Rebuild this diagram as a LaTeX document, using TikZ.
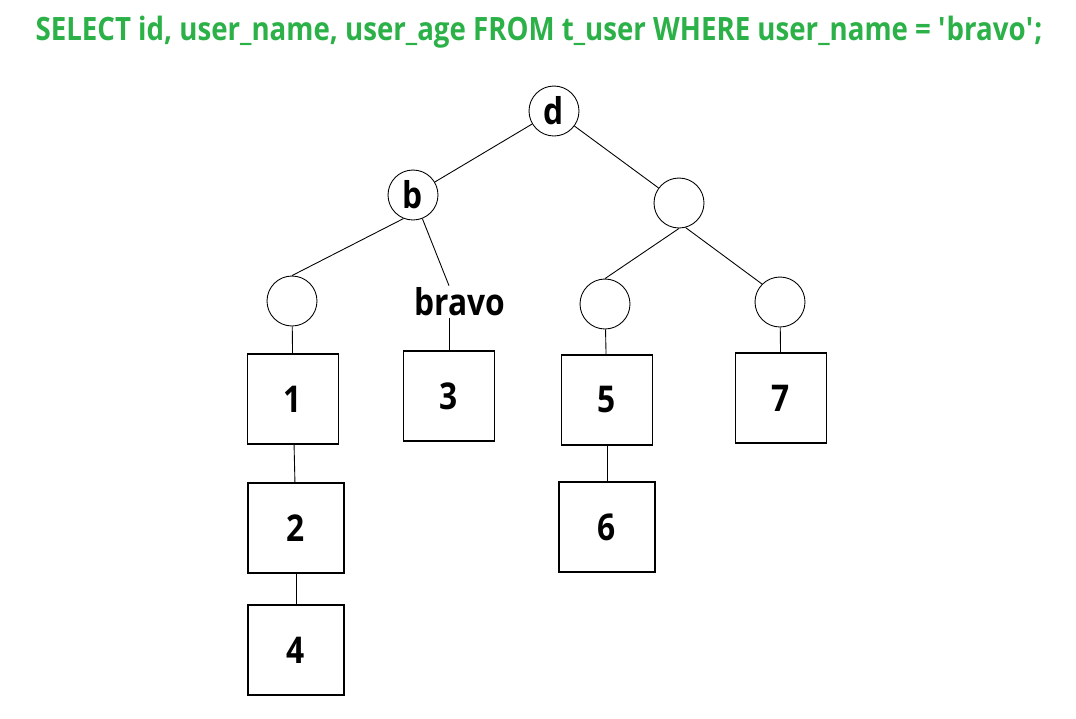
\documentclass[tikz,border=0pt]{standalone}
\usepackage{fontspec}
\setmainfont{Open Sans}[FakeStretch=0.86]
\usepackage{tikz}
\usetikzlibrary{positioning}
\definecolor{TitleGreen}{RGB}{43,177,72}
\tikzset{
  key/.style={draw,circle,line width=0.5pt,minimum size=1cm,inner sep=0pt,font=\bfseries\fontsize{21}{21}\selectfont},
  leaf/.style={draw,line width=0.9pt,minimum width=1.82cm,minimum height=1.8cm,inner sep=0pt,font=\bfseries\fontsize{21}{21}\selectfont},
  wideleaf/.style={leaf,minimum width=1.92cm},
  link/.style={line width=0.5pt},
}

\begin{document}
\begin{tikzpicture}[x=0.02cm,y=-0.02cm]
  \useasboundingbox (0,0) rectangle (1076,718);
  \node[font=\bfseries\fontsize{18.3}{18.3}\selectfont,text=TitleGreen] (sql) at (539,32)
    {SELECT id, user\_name, user\_age FROM t\_user WHERE user\_name = \textquotesingle bravo\textquotesingle;};
  % index levels
  \node[key] (d) at (554,111) {d};
  \node[key] (b) at (413,195) {b};
  \node[key] (r) at (679,203) {};
  \node[key] (bl) at (292,301) {};
  \node[font=\bfseries\fontsize{21}{21}\selectfont,inner sep=1pt] (bravo) at (460,302) {bravo};
  \node[key] (rl) at (605,304) {};
  \node[key] (rr) at (780,302) {};
  % leaf pages
  \node[leaf] (k1) at (293,399) {1};
  \node[leaf] (k3) at (449,396) {3};
  \node[leaf] (k5) at (607,400) {5};
  \node[leaf] (k7) at (781,398) {7};
  \node[wideleaf] (k2) at (296,528) {2};
  \node[wideleaf] (k4) at (296,650) {4};
  \node[wideleaf] (k6) at (607,527) {6};
  \draw[link] (d)--(b); \draw[link] (d)--(r);
  \draw[link] (b.248)--(bl.north); \draw[link] (b)--(k3 |- bravo.north);
  \draw[link] (r.south)--(rl.north); \draw[link] (r.285)--(rr.135);
  \draw[link] (bl)--(k1); \draw[link] (k3 |- bravo.south)--(k3);
  \draw[link] (rl)--(k5); \draw[link] (rr)--(k7);
  \draw[link] (k1)--(k2); \draw[link] (k2)--(k4);
  \draw[link] (k5)--(k6);
\end{tikzpicture}
\end{document}
